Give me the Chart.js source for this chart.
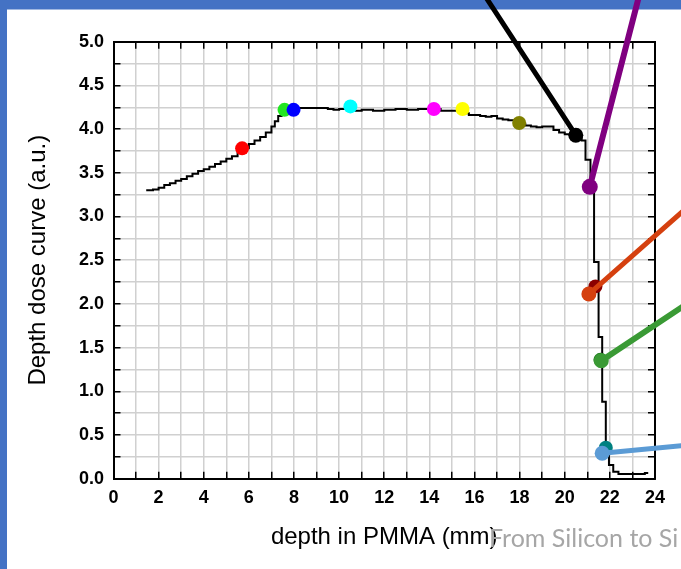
<!DOCTYPE html>
<html>
<head>
<meta charset="utf-8">
<script src="https://cdn.jsdelivr.net/npm/chart.js@4.4.1/dist/chart.umd.min.js"></script>
<style>
  html, body { margin: 0; padding: 0; background: #ffffff; overflow: hidden; }
  #wrap { position: relative; width: 681px; height: 569px; }
  #c { position: absolute; left: 0; top: 0; }
  #footer {
    position: absolute; left: 489px; top: 520px;
    font-family: Lato, "Open Sans", sans-serif; font-size: 25px;
    color: #a6a6a6; white-space: nowrap; line-height: 34px;
  }
</style>
</head>
<body>
<div id="wrap">
  <canvas id="c" width="681" height="569"></canvas>
  <div id="footer">From Silicon to Si</div>
</div>
<script>
// Depth-dose curve in PMMA: each level starts at the given depth (mm)
const depthMm = [
  1.45, 1.75, 2.00, 2.25, 2.50, 2.75, 3.00, 3.25, 3.50, 3.75,
  4.00, 4.25, 4.50, 4.75, 5.00, 5.25, 5.50, 5.75, 6.00, 6.25,
  6.50, 6.75, 7.00, 7.15, 7.30, 7.45, 7.60, 8.00, 8.50, 9.00,
  9.50, 9.75, 10.00, 10.50, 11.00, 11.50, 12.00, 12.50, 13.00, 13.50,
  14.00, 14.50, 15.00, 15.50, 15.75, 16.25, 16.50, 16.75, 17.00, 17.25,
  17.50, 17.75, 18.00, 18.25, 18.50, 18.75, 19.00, 19.25, 19.50, 19.75,
  20.00, 20.25, 20.50, 20.75, 20.92, 21.14, 21.30, 21.50, 21.66, 21.82,
  21.96, 22.15, 22.38, 23.55, 23.70
];
const dose = [
  3.30, 3.31, 3.33, 3.36, 3.38, 3.41, 3.43, 3.46, 3.49, 3.52,
  3.54, 3.57, 3.60, 3.63, 3.66, 3.69, 3.73, 3.78, 3.83, 3.87,
  3.91, 3.96, 4.03, 4.09, 4.15, 4.21, 4.23, 4.24, 4.24, 4.24,
  4.23, 4.22, 4.23, 4.21, 4.22, 4.21, 4.22, 4.23, 4.22, 4.23,
  4.23, 4.21, 4.21, 4.18, 4.16, 4.15, 4.14, 4.15, 4.12, 4.11,
  4.10, 4.08, 4.06, 4.04, 4.03, 4.02, 4.03, 4.03, 3.99, 3.96,
  3.94, 3.92, 3.90, 3.87, 3.65, 3.34, 2.48, 1.62, 0.88, 0.385,
  0.157, 0.08, 0.055, 0.065, 0.065
];

// Sampling positions marked along the curve
const markerNames  = ['red', 'lime', 'blue', 'cyan', 'magenta', 'yellow', 'olive', 'darkred', 'darkgreen', 'teal'];
const markerDepth  = [5.70, 7.58, 7.98, 10.50, 14.20, 15.47, 17.98, 21.36, 21.58, 21.82];
const markerDose   = [3.78, 4.22, 4.22, 4.26, 4.23, 4.23, 4.07, 2.20, 1.36, 0.355];
const markerColors = ['#ff0000', '#22e622', '#0000ff', '#00ffff', '#ff00ff', '#ffff00', '#808000', '#8b0000', '#1e7b1e', '#008080'];

// Callout leaders: [marked point, far end beyond the plot]
const leaderNames  = ['black', 'purple', 'orange', 'green', 'lightblue'];
const leaderDepth  = [[20.49, 16.40], [21.11, 23.32], [21.07, 25.45], [21.62, 25.45], [21.66, 25.45]];
const leaderDose   = [[3.93, 5.55], [3.34, 5.55], [2.113, 3.109], [1.350, 2.007], [0.291, 0.384]];
const leaderColors = ['#000000', '#800080', '#d5400f', '#3a9a35', '#5b9bd5'];
const leaderWidths = [5, 6, 5, 6, 5];
const leaderDotRadius = [7.5, 8, 7.5, 7.5, 7.5];

// Axis tick labels
const xTickLabels = ['0', '2', '4', '6', '8', '10', '12', '14', '16', '18', '20', '22', '24'];
const yTickLabels = ['0.0', '0.5', '1.0', '1.5', '2.0', '2.5', '3.0', '3.5', '4.0', '4.5', '5.0'];

const FONT = 'Liberation Sans, Arial, sans-serif';

const datasets = [];

leaderNames.forEach((name, i) => {
  datasets.push({
    label: name,
    type: 'line',
    data: leaderDepth[i].map((x, k) => ({ x, y: leaderDose[i][k] })),
    borderColor: leaderColors[i],
    backgroundColor: leaderColors[i],
    borderWidth: leaderWidths[i],
    borderCapStyle: 'round',
    pointRadius: [leaderDotRadius[i], 0],
    pointBorderWidth: 0,
    pointBackgroundColor: leaderColors[i],
    clip: false,
    order: 0
  });
});

datasets.push({
  label: 'markers',
  type: 'scatter',
  data: markerDepth.map((x, i) => ({ x, y: markerDose[i] })),
  pointRadius: 7,
  pointBorderWidth: 0,
  pointBackgroundColor: markerColors,
  clip: false,
  order: 1
});

datasets.push({
  label: 'dose',
  type: 'line',
  data: depthMm.map((x, i) => ({ x, y: dose[i] })),
  stepped: true,
  borderColor: '#000000',
  borderWidth: 2,
  pointRadius: 0,
  fill: false,
  order: 2
});

// Slide frame bands behind the chart
const slideFrame = {
  id: 'slideFrame',
  beforeDraw(chart) {
    const ctx = chart.ctx;
    ctx.save();
    ctx.fillStyle = '#ffffff';
    ctx.fillRect(0, 0, chart.width, chart.height);
    ctx.fillStyle = '#4472c4';
    ctx.fillRect(0, 0, chart.width, 9.5);
    ctx.fillRect(0, 0, 7, chart.height);
    ctx.restore();
  }
};

const gridCommon = {
  color: '#d0d0d0',
  lineWidth: 1.5,
  tickLength: -7,
  tickColor: '#000000',
  tickWidth: 1.5
};
const borderCommon = { display: true, color: '#000000', width: 2 };

new Chart(document.getElementById('c'), {
  data: { datasets },
  plugins: [slideFrame],
  options: {
    responsive: false,
    animation: false,
    devicePixelRatio: 1,
    layout: { padding: { left: 0, top: 41.7, right: 24, bottom: 0 } },
    plugins: { legend: { display: false }, tooltip: { enabled: false } },
    scales: {
      x: {
        type: 'linear', position: 'bottom', min: 0, max: 24,
        afterFit: s => { s.height = 90.3; },
        ticks: {
          stepSize: 1, autoSkip: false, maxRotation: 0, padding: 16,
          color: '#000000', font: { family: FONT, size: 18, weight: 'bold' },
          callback: v => (v % 2 === 0 ? xTickLabels[v / 2] : '')
        },
        grid: { ...gridCommon },
        border: { ...borderCommon },
        title: {
          display: true, text: 'depth in PMMA (mm)', color: '#000000',
          font: { family: FONT, size: 24 }, padding: { top: 0, bottom: 17.6 }
        }
      },
      x2: {
        type: 'linear', axis: 'x', position: 'top', min: 0, max: 24,
        afterFit: s => { s.height = 0; },
        ticks: { stepSize: 1, display: false },
        grid: { ...gridCommon, drawOnChartArea: false },
        border: { ...borderCommon }
      },
      y: {
        type: 'linear', position: 'left', min: 0, max: 5,
        afterFit: s => { s.width = 113.5; },
        ticks: {
          stepSize: 0.25, autoSkip: false, padding: 16.5,
          color: '#000000', font: { family: FONT, size: 18, weight: 'bold' },
          callback: v => {
            const k = Math.round(v * 2);
            return Math.abs(v * 2 - k) < 1e-6 ? yTickLabels[k] : '';
          }
        },
        grid: { ...gridCommon },
        border: { ...borderCommon },
        title: {
          display: true, text: 'Depth dose curve (a.u.)', color: '#000000',
          font: { family: FONT, size: 24 }, padding: { top: 23.6, bottom: 0 }
        }
      },
      y2: {
        type: 'linear', axis: 'y', position: 'right', min: 0, max: 5,
        afterFit: s => { s.width = 0; },
        ticks: { stepSize: 0.25, display: false },
        grid: { ...gridCommon, drawOnChartArea: false },
        border: { ...borderCommon }
      }
    }
  }
});
</script>
</body>
</html>
